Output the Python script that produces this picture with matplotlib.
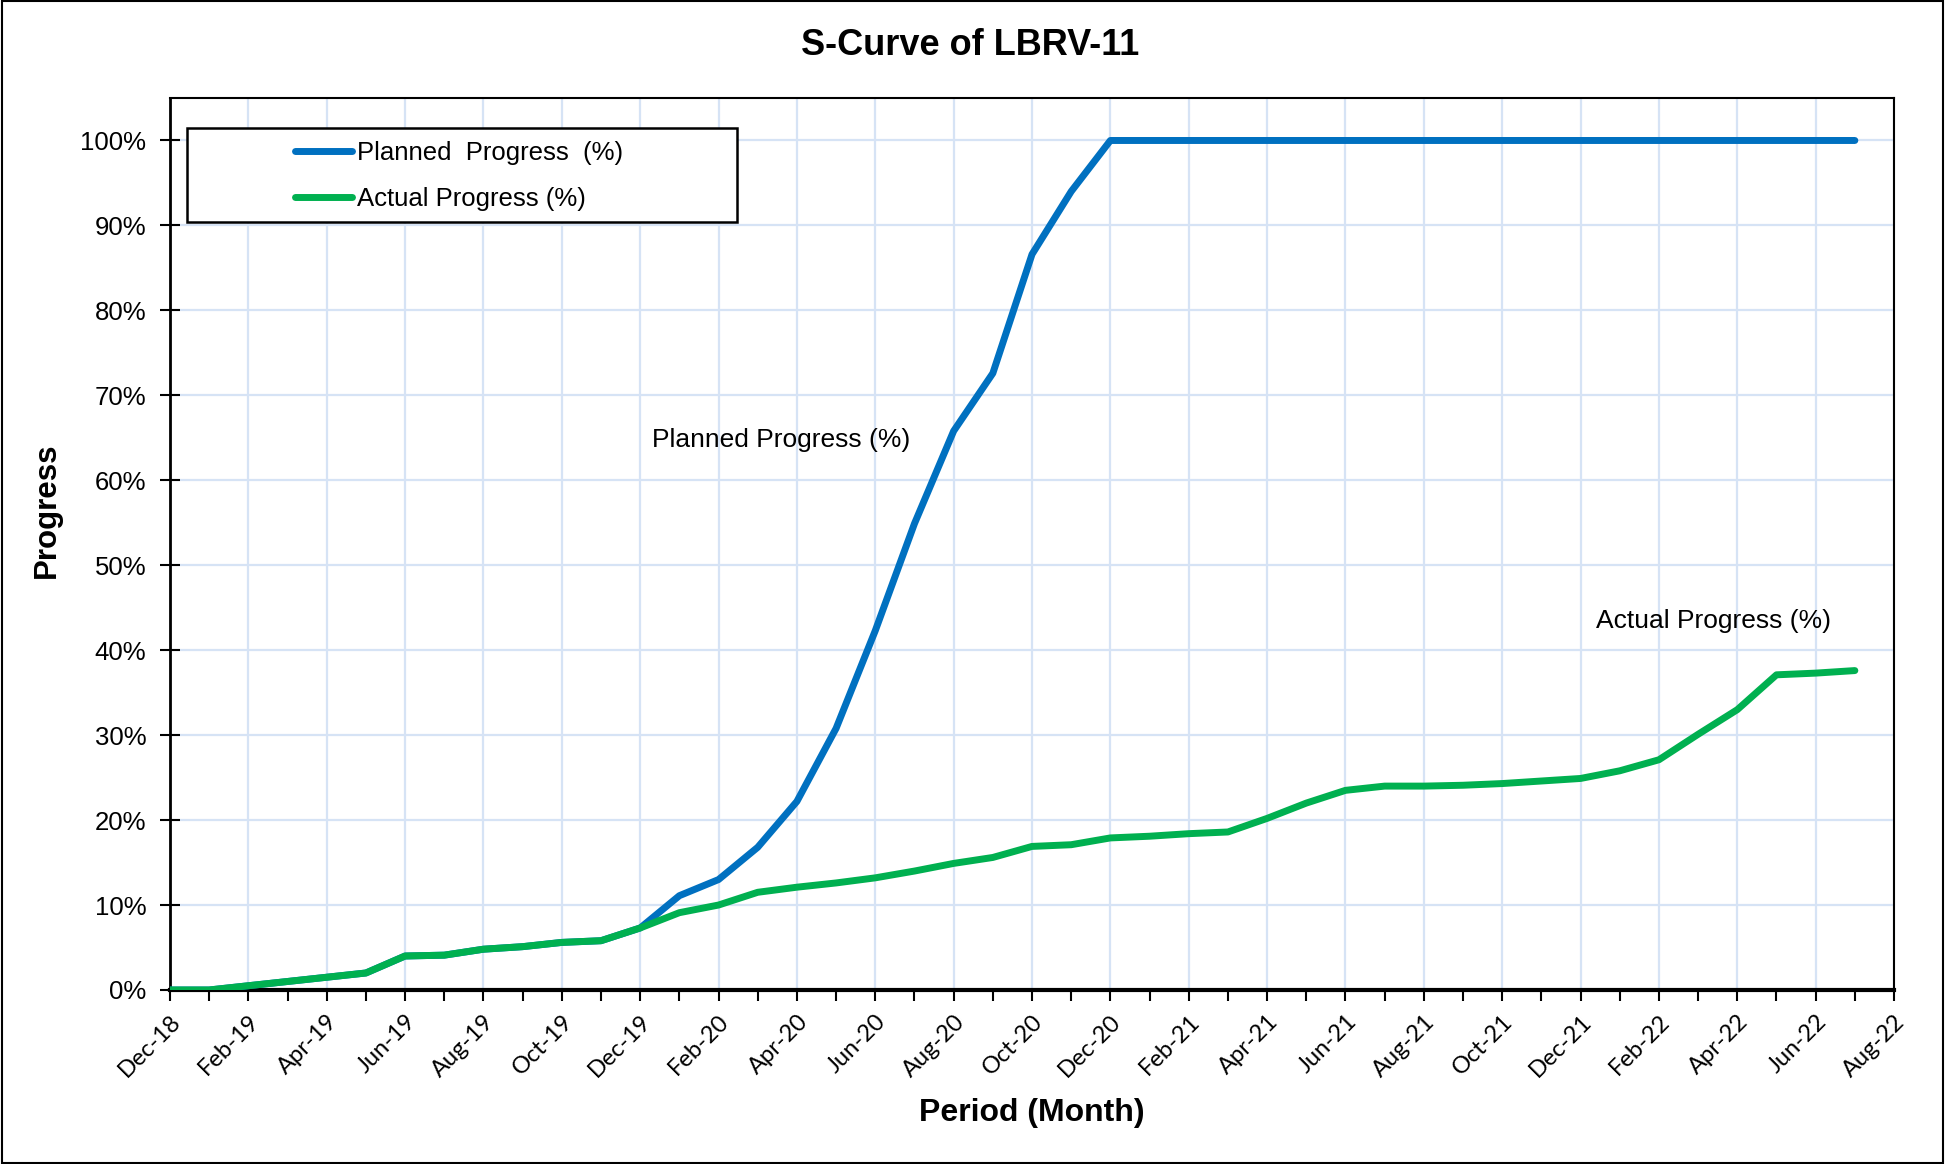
import matplotlib
matplotlib.use("Agg")
import matplotlib.pyplot as plt
from matplotlib.ticker import MultipleLocator, FixedLocator, FixedFormatter, PercentFormatter
from matplotlib.patches import Rectangle

# Monthly periods, Dec-18 .. Jul-22
months = ["Dec-18", "Jan-19", "Feb-19", "Mar-19", "Apr-19", "May-19", "Jun-19", "Jul-19",
          "Aug-19", "Sep-19", "Oct-19", "Nov-19", "Dec-19", "Jan-20", "Feb-20", "Mar-20",
          "Apr-20", "May-20", "Jun-20", "Jul-20", "Aug-20", "Sep-20", "Oct-20", "Nov-20",
          "Dec-20", "Jan-21", "Feb-21", "Mar-21", "Apr-21", "May-21", "Jun-21", "Jul-21",
          "Aug-21", "Sep-21", "Oct-21", "Nov-21", "Dec-21", "Jan-22", "Feb-22", "Mar-22",
          "Apr-22", "May-22", "Jun-22", "Jul-22"]

planned = [0.0, 0.0, 0.5, 1.0, 1.5, 2.0, 4.0, 4.1, 4.8, 5.1, 5.6, 5.8, 7.3, 11.1, 13.0, 16.8,
           22.2, 30.8, 42.3, 54.9, 65.8, 72.6, 86.6, 94.0, 100.0, 100.0, 100.0, 100.0, 100.0,
           100.0, 100.0, 100.0, 100.0, 100.0, 100.0, 100.0, 100.0, 100.0, 100.0, 100.0, 100.0,
           100.0, 100.0, 100.0]

actual = [0.0, 0.0, 0.5, 1.0, 1.5, 2.0, 4.0, 4.1, 4.8, 5.1, 5.6, 5.8, 7.3, 9.1, 10.0, 11.5,
          12.1, 12.6, 13.2, 14.0, 14.9, 15.6, 16.9, 17.1, 17.9, 18.1, 18.4, 18.6, 20.2, 22.0,
          23.5, 24.0, 24.0, 24.1, 24.3, 24.6, 24.9, 25.8, 27.1, 30.1, 33.0, 37.1, 37.3, 37.6]

tick_labels = ["Dec-18", "Feb-19", "Apr-19", "Jun-19", "Aug-19", "Oct-19", "Dec-19", "Feb-20",
               "Apr-20", "Jun-20", "Aug-20", "Oct-20", "Dec-20", "Feb-21", "Apr-21", "Jun-21",
               "Aug-21", "Oct-21", "Dec-21", "Feb-22", "Apr-22", "Jun-22", "Aug-22"]

BLUE = "#0070C0"
GREEN = "#00B050"
GRID = "#D6E3F5"
FONT = "Liberation Sans"

plt.rcParams["font.family"] = [FONT, "DejaVu Sans"]

fig = plt.figure(figsize=(19.45, 11.64), dpi=100)
ax = fig.add_axes([0.0874, 0.1495, 0.9738 - 0.0874, 0.9158 - 0.1495])

x = list(range(len(months)))
line_p, = ax.plot(x, planned, color=BLUE, lw=5, solid_capstyle="round",
                  solid_joinstyle="round", label="Planned  Progress  (%)", zorder=3)
line_a, = ax.plot(x, actual, color=GREEN, lw=5, solid_capstyle="round",
                  solid_joinstyle="round", label="Actual Progress (%)", zorder=4)

ax.set_xlim(0, 44)
ax.set_ylim(0, 105)

ax.xaxis.set_major_locator(FixedLocator(list(range(0, 45, 2))))
ax.xaxis.set_major_formatter(FixedFormatter(tick_labels))
ax.xaxis.set_minor_locator(MultipleLocator(1))
ax.yaxis.set_major_locator(FixedLocator(list(range(0, 101, 10))))
ax.yaxis.set_major_formatter(PercentFormatter(decimals=0))

ax.grid(True, which="major", color=GRID, lw=1.6, zorder=0)
ax.set_axisbelow(True)

ax.tick_params(axis="x", which="both", direction="out", length=8, width=1.5,
               color="black", pad=7)
ax.tick_params(axis="y", which="major", direction="inout", length=14, width=1.5,
               color="black", labelsize=18.5, pad=10)
for lbl in ax.get_yticklabels():
    lbl.set_fontfamily(FONT)
for lbl in ax.get_xticklabels():
    lbl.set_rotation(45)
    lbl.set_ha("right")
    lbl.set_va("top")
    lbl.set_rotation_mode("anchor")
    lbl.set_fontsize(17)
    lbl.set_fontfamily("Lato")

for side, w in (("left", 2.0), ("bottom", 3.0), ("top", 1.5), ("right", 1.5)):
    ax.spines[side].set_linewidth(w)
    ax.spines[side].set_color("black")

# Legend frame drawn as its own box, entries placed inside it
ax.add_patch(Rectangle((0.00986, 0.861), 0.319, 0.105, transform=ax.transAxes,
                       facecolor="white", edgecolor="black", lw=1.8, zorder=5))
leg = ax.legend(handles=[line_p, line_a], loc="center left",
                bbox_to_anchor=(0.0725, 0.913), frameon=False, fontsize=18.5,
                handlelength=2.2, handletextpad=0.2, borderpad=0, borderaxespad=0,
                labelspacing=0.85)
leg.set_zorder(6)

ax.text(12.3, 64.8, "Planned Progress (%)", fontsize=19, ha="left", va="center")
ax.text(36.4, 43.4, "Actual Progress (%)", fontsize=19, ha="left", va="center")

fig.text(0.499, 0.961, "S-Curve of LBRV-11", fontsize=26, fontweight="bold",
         ha="center", va="center")
ax.set_xlabel("Period (Month)", fontsize=23, fontweight="bold")
ax.xaxis.set_label_coords(0.5306, 0.0435, transform=fig.transFigure)
ax.xaxis.label.set_va("center")
ax.set_ylabel("Progress", fontsize=22.5, fontweight="bold")
ax.yaxis.set_label_coords(0.024, (1164 - 510) / 1164, transform=fig.transFigure)
ax.yaxis.label.set_va("center")

# Outer chart border
fig.patches.append(Rectangle((0.0008, 0.001), 0.9984, 0.998, transform=fig.transFigure,
                             fill=False, edgecolor="black", lw=1.5))

fig.savefig("out.png", dpi=100)
